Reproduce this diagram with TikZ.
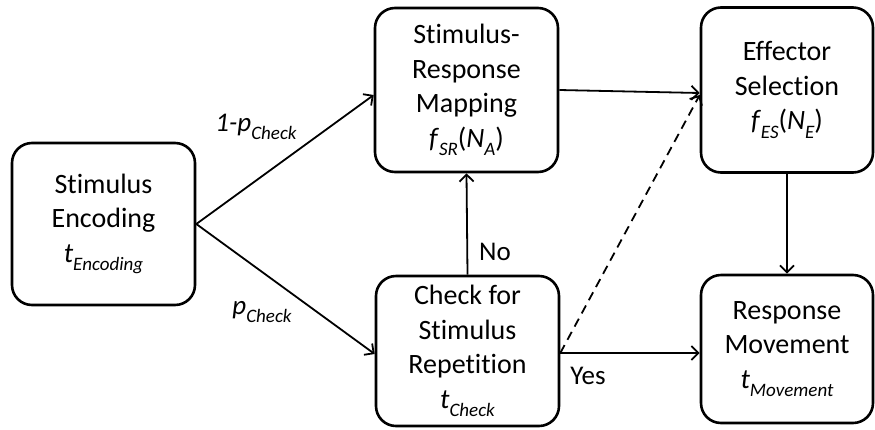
\documentclass[tikz,border=0pt]{standalone}
\usepackage{fontspec}
\setmainfont[Ligatures=NoCommon]{Carlito}
\usetikzlibrary{arrows.meta,calc}
\newcommand{\lowsub}[1]{\raisebox{-0.3em}{\fontsize{19}{19}\selectfont\itshape #1}}
\tikzset{
  box/.style={draw, line width=2.6pt, rounded corners=20pt, align=center,
    font=\fontsize{28}{34.5}\selectfont, inner sep=0pt},
  conn/.style={line width=1.8pt, -{Straight Barb[length=7pt,width=14pt,line width=1.8pt]}},
  lbl/.style={font=\fontsize{27}{30}\selectfont}
}
\begin{document}
\begin{tikzpicture}[x=1pt,y=-1pt]
\useasboundingbox (0,0) rectangle (875,429);
\node[box, minimum width=183pt, minimum height=162pt] (enc) at (103.5,224)
  {Stimulus\\Encoding\\\textit{t}\lowsub{Encoding}};
\node[box, minimum width=183pt, minimum height=164pt] (srm) at (466.5,90)
  {Stimulus-\\Response\\Mapping\\\textit{f}\lowsub{SR}(\textit{N}\lowsub{A})};
\node[box, minimum width=183pt, minimum height=150pt] (chk) at (467.5,351)
  {Check for\\Stimulus\\Repetition\\\textit{t}\lowsub{Check}};
\node[box, minimum width=172pt, minimum height=165pt] (eff) at (787,90)
  {Effector\\Selection\\\textit{f}\lowsub{ES}(\textit{N}\lowsub{E})};
\node[box, minimum width=172pt, minimum height=148pt] (rsp) at (787,349)
  {Response\\Movement\\\textit{t}\lowsub{Movement}};

\draw[conn] (enc.east) -- ([yshift=-5pt]srm.west);
\draw[conn] (enc.east) -- ([yshift=-3pt]chk.west);
\draw[conn] (srm.east) -- ([yshift=-3pt]eff.west);
\draw[conn, dashed, dash pattern=on 9pt off 6pt] ([yshift=-2pt]chk.east) -- ([yshift=-5pt]eff.west);
\draw[conn] ([yshift=-2pt]chk.east) -- ([yshift=-2pt]chk.east -| rsp.west);
\draw[conn] (chk.north) -- (srm.south);
\draw[conn] (eff.south) -- (rsp.north);

\node[lbl] (l1) at (256,127) {\textit{1-p}\lowsub{Check}};
\node[lbl] (l2) at (262,312) {\textit{p}\lowsub{Check}};
\node[lbl] (l3) at (495,252) {No};
\node[lbl] (l4) at (588,376) {Yes};
\end{tikzpicture}
\end{document}
